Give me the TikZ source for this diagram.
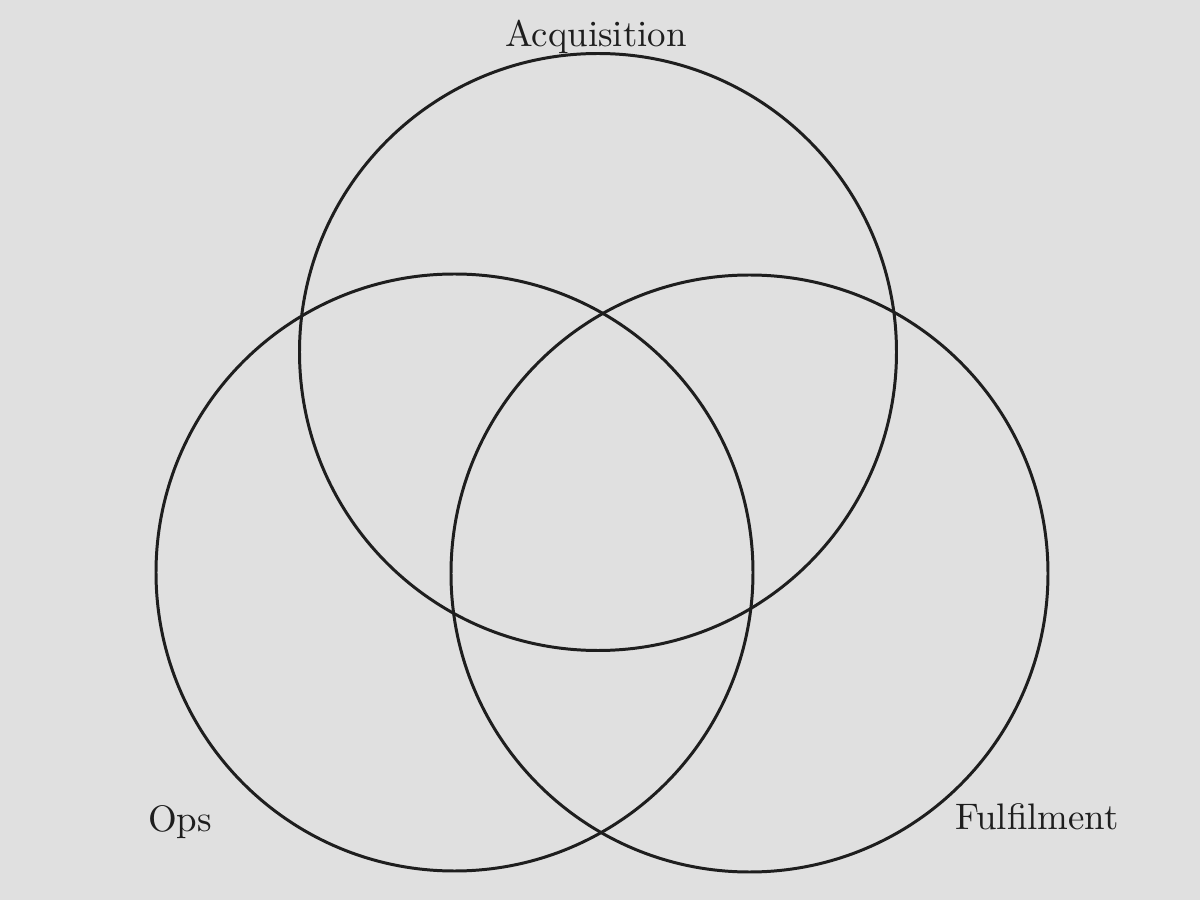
\documentclass[tikz,border=0pt]{standalone}
\usepackage{tikz}
\usetikzlibrary{positioning}
\usepackage{xcolor}
\definecolor{Paper} {HTML}{E0E0E0}
\definecolor{Ink}   {HTML}{1E1E1E}
\tikzset{
  ring/.style={
    circle, draw=Ink, line width=0.85pt,
    minimum size=5.97cm, inner sep=0pt,
  },
  setlbl/.style={
    font=\fontsize{10.5}{12}\selectfont, text=Ink,
    anchor=base, inner sep=0pt,
  },
}
\begin{document}
\begin{tikzpicture}[x=1cm,y=1cm]
    \fill[Paper] (0,0) rectangle (12,9);
    \useasboundingbox (0,0) rectangle (12,9);
    \node[ring] (acq) at (5.98,5.48)  {};
    \node[ring] (ops) at (4.545,3.275) {};
    \node[ring] (ful) at (7.495,3.265) {};
    \node[setlbl] (acqlbl) at (5.96,8.53) {Acquisition};
    \node[setlbl] (opslbl) at (1.80,0.68) {Ops};
    \node[setlbl] (fullbl) at (10.37,0.70) {Fulfilment};
  \end{tikzpicture}
\end{document}
